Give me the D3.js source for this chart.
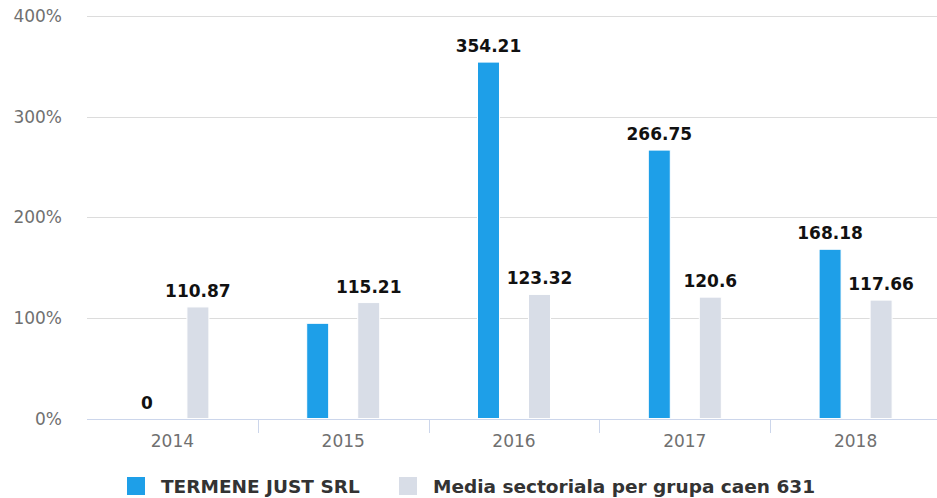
<!DOCTYPE html>
<html>
<head>
<meta charset="utf-8">
<script src="https://cdn.jsdelivr.net/npm/d3@7"></script>
<style>
  body { margin: 0; background: #fff; }
  svg { display: block; font-family: "DejaVu Sans", sans-serif; }
</style>
</head>
<body>
<svg id="svgMain" width="937" height="498"></svg>
<script>
// chart values
const years = ["2014", "2015", "2016", "2017", "2018"];
const seriesNames = ["TERMENE JUST SRL", "Media sectoriala per grupa caen 631"];
const companyValues = [0, 94.6, 354.21, 266.75, 168.18];
const sectorValues = [110.87, 115.21, 123.32, 120.6, 117.66];
const companyLabels = ["0", null, "354.21", "266.75", "168.18"];
const sectorLabels = ["110.87", "115.21", "123.32", "120.6", "117.66"];
const yTicks = [0, 100, 200, 300, 400];

const colors = ["#1e9fe8", "#d8dde7"];

let svgMain = d3.select("#svgMain");

const plotLeft = 87, plotRight = 941;
const plotTop = 16, plotBottom = 418.5;

const xScale = d3.scaleBand()
    .domain(years)
    .range([plotLeft, plotRight]);

const bw = xScale.bandwidth();
const seriesScale = d3.scaleBand()
    .domain([0, 1])
    .range([bw / 2 - 36.5, bw / 2 + 36.5])
    .paddingInner(0.569)
    .paddingOuter(0);

const yScale = d3.scaleLinear()
    .domain([0, 400])
    .range([plotBottom, plotTop]);

//Gridlines
svgMain.append("g")
    .selectAll("line")
    .data(yTicks.filter(d => d > 0))
    .enter().append("line")
    .attr("x1", plotLeft)
    .attr("x2", plotRight)
    .attr("y1", d => Math.round(yScale(d)) + 0.5)
    .attr("y2", d => Math.round(yScale(d)) + 0.5)
    .style("stroke", "#dcdcdc")
    .style("stroke-width", 1);

//Y labels
svgMain.append("g")
    .selectAll("text")
    .data(yTicks)
    .enter().append("text")
    .attr("x", 62)
    .attr("y", d => yScale(d) + 6)
    .attr("text-anchor", "end")
    .style("font-size", "17px")
    .style("fill", "#707070")
    .text(d => d + "%");

//Bars
const rows = years.map((y, i) => ({ year: y, values: [companyValues[i], sectorValues[i]], labels: [companyLabels[i], sectorLabels[i]] }));

const groups = svgMain.append("g")
    .selectAll("g")
    .data(rows)
    .enter().append("g")
    .attr("transform", d => "translate(" + xScale(d.year) + ",0)");

groups.selectAll("rect")
    .data(d => d.values.map((v, s) => ({ v: v, s: s })))
    .enter().append("rect")
    .attr("x", d => seriesScale(d.s))
    .attr("width", seriesScale.bandwidth())
    .attr("y", d => yScale(d.v))
    .attr("height", d => plotBottom - yScale(d.v))
    .style("fill", d => colors[d.s])
    .style("stroke", "#ffffff")
    .style("stroke-width", 1);

//Data labels
groups.selectAll("text")
    .data(d => d.values.map((v, s) => ({ v: v, s: s, label: d.labels[s] })).filter(d => d.label !== null))
    .enter().append("text")
    .attr("x", d => seriesScale(d.s) + seriesScale.bandwidth() / 2)
    .attr("y", d => yScale(d.v) - 10)
    .attr("text-anchor", "middle")
    .style("font-size", "17px")
    .style("font-weight", "bold")
    .style("fill", "#111111")
    .style("stroke", "#ffffff")
    .style("stroke-width", 2)
    .style("paint-order", "stroke")
    .text(d => d.label);

//X axis
svgMain.append("line")
    .attr("x1", plotLeft)
    .attr("x2", plotRight)
    .attr("y1", 419.5)
    .attr("y2", 419.5)
    .style("stroke", "#ccd6eb");

svgMain.append("g")
    .selectAll("line")
    .data(years.slice(1))
    .enter().append("line")
    .attr("x1", d => Math.round(xScale(d)) + 0.5)
    .attr("x2", d => Math.round(xScale(d)) + 0.5)
    .attr("y1", 419)
    .attr("y2", 433)
    .style("stroke", "#ccd6eb");

svgMain.append("g")
    .selectAll("text")
    .data(years)
    .enter().append("text")
    .attr("x", d => xScale(d) + bw / 2)
    .attr("y", 447)
    .attr("text-anchor", "middle")
    .style("font-size", "17px")
    .style("fill", "#707070")
    .text(d => d);

//Legend
const legendX = [127, 399];
const legend = svgMain.append("g")
    .selectAll("g")
    .data(seriesNames)
    .enter().append("g")
    .attr("transform", (d, i) => "translate(" + legendX[i] + ",477)");

legend.append("rect")
    .attr("width", 18)
    .attr("height", 18)
    .style("fill", (d, i) => colors[i]);

legend.append("text")
    .attr("x", 34)
    .attr("y", 16)
    .style("font-size", "18.5px")
    .style("font-weight", "bold")
    .style("fill", "#333333")
    .text(d => d);
</script>
</body>
</html>
